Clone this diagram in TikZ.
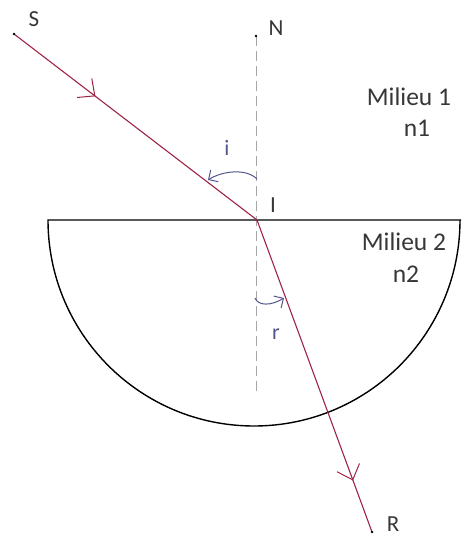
\documentclass[tikz,border=0pt]{standalone}
\usepackage{fontspec}
\setmainfont{Carlito}
\usetikzlibrary{arrows.meta,positioning,calc,decorations.markings}
\definecolor{raycol}{RGB}{158,36,70}
\definecolor{anglecol}{RGB}{84,84,140}
\definecolor{textcol}{RGB}{55,55,55}

\begin{document}
\begin{tikzpicture}[x=1pt, y=-1pt,
    surface/.style={draw=black, line width=1.4pt},
    normal/.style={draw=black!35, line width=1pt, dash pattern=on 10pt off 5pt},
    ray/.style={draw=raycol, line width=1.1pt},
    midarrow/.style={postaction={decorate}, decoration={markings,
        mark=at position #1 with {\arrow{Straight Barb[length=13pt,width=24pt,line width=1pt]}}}},
    anglearc/.style={draw=anglecol, line width=1pt, -{Straight Barb[length=7pt,width=14pt,line width=1pt]}},
    pt/.style={fill=black},
    ptlab/.style={font=\fontsize{23}{27}\selectfont, text=textcol, inner sep=0pt},
    anglab/.style={font=\fontsize{22}{26}\selectfont, text=anglecol, inner sep=0pt},
    medium/.style={font=\fontsize{25.5}{30}\selectfont, text=textcol, inner sep=0pt, anchor=base}]
  \useasboundingbox (0,0) rectangle (461,538);

  \coordinate (S) at (14,34);
  \coordinate (N) at (256,36);
  \coordinate (I) at (257,220);
  \coordinate (R) at (372,532);
  \coordinate (Nend) at (256,393);
  \coordinate (left) at (48,220);
  \coordinate (right) at (461,220);

  \draw[normal] (N) -- (Nend);
  \draw[surface] (right) -- (left) arc[start angle=180, end angle=0, radius=206];

  \draw[ray, midarrow=0.335] (S) -- (I);
  \draw[ray, midarrow=0.835] (I) -- (R);

  \foreach \p in {S,N,R} { \fill[pt] (\p) circle (1.4); }

  \coordinate (ia) at (257,179);
  \coordinate (ib) at (208,180);
  \draw[anglearc] (ia) .. controls (246,168) and (222,171) .. (ib);
  \coordinate (ra) at (255,298);
  \coordinate (rb) at (284,298);
  \draw[anglearc] (ra) .. controls (258,306) and (271,306) .. (rb);

  \node[ptlab] (Slab) at (34,19) {S};
  \node[ptlab] (Nlab) at (276,28) {N};
  \node[ptlab] (Ilab) at (273,205) {I};
  \node[ptlab] (Rlab) at (393,524) {R};
  \node[anglab] (ilab) at (227,148) {i};
  \node[anglab] (rlab) at (276,334) {r};

  \node[medium] (med1) at (409,105) {Milieu 1};
  \node[medium] (idx1) at (417,136) {n1};
  \node[medium] (med2) at (404,250) {Milieu 2};
  \node[medium] (idx2) at (406,282) {n2};
\end{tikzpicture}
\end{document}
